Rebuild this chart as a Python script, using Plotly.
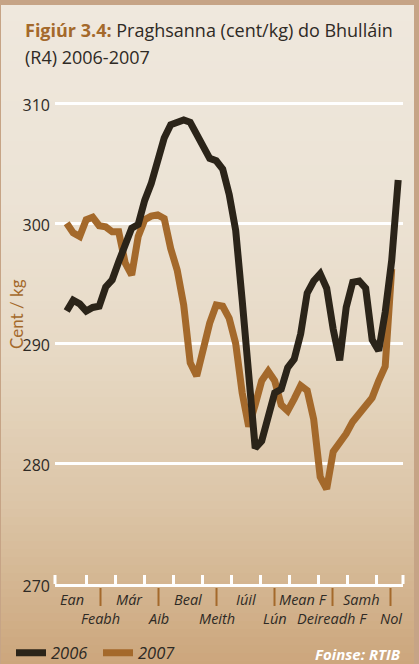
import plotly.graph_objects as go

# ---------------- data ----------------
weeks = list(range(1, 53))
price_2006 = [292.7, 293.6, 293.3, 292.7, 293.0, 293.1, 294.7, 295.3, 296.8, 298.3,
              299.6, 299.9, 301.9, 303.3, 305.2, 307.1, 308.2, 308.4, 308.6, 308.4,
              307.3, 306.2, 305.4, 305.2, 304.5, 302.4, 299.4, 293.6, 288.1, 281.3,
              281.9, 284.0, 285.9, 286.2, 288.0, 288.7, 290.8, 294.2, 295.2, 295.8,
              294.6, 291.2, 288.6, 293.0, 295.1, 295.2, 294.6, 290.3, 289.4, 292.6,
              296.9, 303.6]
price_2007 = [300.0, 299.2, 298.9, 300.3, 300.5, 299.8, 299.7, 299.3, 299.3, 296.7,
              295.7, 298.9, 300.3, 300.6, 300.7, 300.4, 297.9, 296.1, 293.2, 288.4,
              287.3, 289.8, 291.7, 293.2, 293.1, 292.1, 290.0, 285.9, 283.1, 284.9,
              286.9, 287.7, 286.9, 284.9, 284.4, 285.4, 286.5, 286.1, 283.7, 278.9,
              277.9, 281.0, 281.7, 282.5, 283.5, 284.1, 284.7, 285.5, 286.9, 288.1,
              296.2, None]
months_top = ["Ean", "", "Már", "", "Beal", "", "Iúil", "", "Mean F", "", "Samh", ""]
months_bottom = ["", "Feabh", "", "Aib", "", "Meith", "", "Lún", "", "Deireadh F", "", "Nol"]
y_ticks = [270, 280, 290, 300, 310]

# ---------------- styling / layout constants ----------------
W, H = 419, 664
L, R, T, B = 55, 16, 79, 80
PW, PH = W - L - R, H - T - B
XMIN, XMAX = -0.8, 52.74
YMIN, YMAX = 270, 312
MONTH0 = -0.49          # start of first month (week units)
MONTH_W = 29 / 6.5      # month width (week units)
BLACK = "#2B2419"
BROWN = "#A4692B"
TEXT = "#2E2A25"
FONT = "Open Sans"


def px_x(px):
    return (px - L) / PW


def px_y(py):
    return (H - B - py) / PH


def wk_to_paper(w):
    return (w - XMIN) / (XMAX - XMIN)


fig = go.Figure()
fig.add_trace(go.Scatter(x=weeks, y=price_2007, mode="lines", name="2007",
                         line=dict(color=BROWN, width=7), legendrank=2))
fig.add_trace(go.Scatter(x=weeks, y=price_2006, mode="lines", name="2006",
                         line=dict(color=BLACK, width=7), legendrank=1))

shapes = []
# background gradient panel
stops = [(5, (239, 232, 221)), (200, (236, 227, 213)), (350, (231, 217, 197)),
         (500, (220, 198, 168)), (664, (204, 166, 124))]


def col_at(y):
    for (y0, c0), (y1, c1) in zip(stops[:-1], stops[1:]):
        if y0 <= y <= y1:
            t = (y - y0) / (y1 - y0)
            return "rgb(%d,%d,%d)" % tuple(round(a + (b - a) * t) for a, b in zip(c0, c1))
    return "rgb(%d,%d,%d)" % stops[-1][1]


step = 8
y = 5
while y < H:
    y2 = min(y + step, H)
    shapes.append(dict(type="rect", xref="paper", yref="paper", layer="below",
                       x0=px_x(1), x1=px_x(414), y0=px_y(y2 + 0.5), y1=px_y(y),
                       line=dict(width=0), fillcolor=col_at((y + y2) / 2)))
    y = y2

# axis end ticks
for xp in (0, 1):
    shapes.append(dict(type="line", xref="paper", yref="paper", x0=xp, x1=xp,
                       y0=0, y1=px_y(H - B - 9), line=dict(color="white", width=3)))
# leader lines below the axis for lower-row labels
for m, lab in enumerate(months_bottom):
    if lab:
        xc = wk_to_paper(MONTH0 + MONTH_W * (m + 0.5))
        shapes.append(dict(type="line", xref="paper", yref="paper", x0=xc, x1=xc,
                           y0=px_y(H - B + 4), y1=px_y(H - B + 22),
                           line=dict(color=BROWN, width=2)))

annotations = []
for m in range(12):
    xc = MONTH0 + MONTH_W * (m + 0.5)
    if months_top[m]:
        annotations.append(dict(x=xc, y=px_y(599.5), xref="x", yref="paper",
                                text="<i>%s</i>" % months_top[m], showarrow=False,
                                xanchor="center", yanchor="middle",
                                font=dict(family=FONT, size=14.5, color=TEXT)))
    if months_bottom[m]:
        annotations.append(dict(x=xc, y=px_y(618.5), xref="x", yref="paper",
                                text="<i>%s</i>" % months_bottom[m], showarrow=False,
                                xanchor="center", yanchor="middle",
                                font=dict(family=FONT, size=14.5, color=TEXT)))

annotations.append(dict(x=px_x(23), y=px_y(30), xref="paper", yref="paper",
                        text='<b><span style="color:%s">Figiúr 3.4:</span></b> Praghsanna (cent/kg) do Bhulláin' % BROWN,
                        showarrow=False, xanchor="left", yanchor="middle",
                        font=dict(family=FONT, size=18, color=TEXT)))
annotations.append(dict(x=px_x(23), y=px_y(57), xref="paper", yref="paper",
                        text="(R4) 2006-2007", showarrow=False, xanchor="left",
                        yanchor="middle", font=dict(family=FONT, size=18, color=TEXT)))
annotations.append(dict(x=px_x(16), y=px_y(314), xref="paper", yref="paper",
                        text="Cent / kg", textangle=-90, showarrow=False,
                        xanchor="center", yanchor="middle",
                        font=dict(family="Lato", size=17, color=BROWN)))
annotations.append(dict(x=1, y=px_y(654), xref="paper", yref="paper",
                        text="<b><i>Foinse: RTIB</i></b>", showarrow=False,
                        xanchor="right", yanchor="middle",
                        font=dict(family=FONT, size=15, color="white")))

month_ticks = [MONTH0 + MONTH_W * m for m in range(1, 12)]

fig.update_layout(
    width=W, height=H,
    margin=dict(l=L, r=R, t=T, b=B, pad=0, autoexpand=False),
    paper_bgcolor="#C6A486",
    plot_bgcolor="rgba(0,0,0,0)",
    showlegend=True,
    legend=dict(orientation="h", x=px_x(11), y=px_y(653), xanchor="left",
                yanchor="middle", bgcolor="rgba(0,0,0,0)",
                font=dict(family=FONT, size=16.5, color=TEXT, style="italic"),
                itemwidth=30, entrywidth=42, entrywidthmode="pixels"),
    shapes=shapes,
    annotations=annotations,
    xaxis=dict(range=[XMIN, XMAX], showgrid=False, zeroline=False,
               showline=True, linecolor="white", linewidth=3,
               tickmode="array", tickvals=month_ticks, ticks="inside",
               ticklen=9, tickwidth=3, tickcolor="white", showticklabels=False),
    yaxis=dict(range=[YMIN, YMAX], tickmode="array", tickvals=y_ticks,
               ticktext=[str(v) for v in y_ticks], showgrid=True,
               gridcolor="white", gridwidth=2.5, zeroline=False, showline=False,
               ticks="", ticklabelstandoff=4, ticklabelshift=2,
               tickfont=dict(family=FONT, size=16, color=TEXT)),
)

fig.write_html("out.html", config={"displayModeBar": False},
               post_script="document.body.style.margin='0';document.body.style.overflow='hidden';")
